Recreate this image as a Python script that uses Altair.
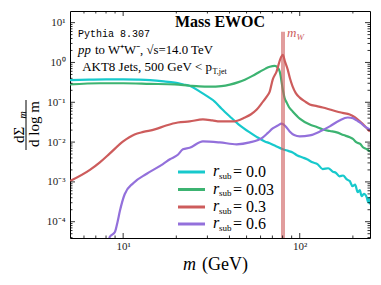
import altair as alt
import pandas as pd

W, H = 300, 227

# ---------------- data ----------------
cyan_m = [5.0, 6.5, 8.0, 10, 12, 14.2, 17, 19.6, 22, 23.8, 27.2, 30, 33, 36, 40.2, 45, 52.1, 57,
          63.4, 67.6, 73, 80.2, 86, 91.2, 97, 104, 110, 118, 126, 135, 145, 154, 160, 168, 176,
          184, 192, 199, 206, 213, 219, 224, 231, 239, 244, 248, 250]
cyan_v = [0.36, 0.37, 0.375, 0.375, 0.37, 0.36, 0.335, 0.31, 0.28, 0.26, 0.185, 0.14, 0.104, 0.07,
          0.044, 0.028, 0.0175, 0.0135, 0.0104, 0.0094, 0.0080, 0.0066, 0.0060, 0.0055, 0.0046,
          0.0041, 0.0037, 0.0031, 0.0028, 0.0021, 0.0022, 0.0018, 0.0017, 0.00138, 0.00145, 0.00117,
          0.00105, 0.00078, 0.00085, 0.00055, 0.00062, 0.00044, 0.00050, 0.00042, 0.00031, 0.00040,
          0.00027]

green_m = [5.0, 7.4, 10, 14.2, 19.6, 23.8, 27, 31, 36, 40.2, 45, 48.9, 54, 59.4, 64, 67.7, 72.2,
           75, 77.1, 80.2, 82, 84.4, 87, 91.2, 100, 114, 125, 135, 148, 162, 177, 192, 200, 210,
           220, 228, 240, 250]
green_v = [0.28, 0.30, 0.30, 0.29, 0.28, 0.26, 0.25, 0.247, 0.255, 0.277, 0.32, 0.37, 0.46, 0.585,
           0.70, 0.78, 0.82, 0.75, 0.585, 0.208, 0.13, 0.098, 0.075, 0.059, 0.039, 0.0277, 0.024,
           0.0208, 0.019, 0.0175, 0.0150, 0.0132, 0.0120, 0.0098, 0.0090, 0.0074, 0.0066, 0.0058]

red_m = [5.0, 6.48, 7.38, 8.41, 10, 11.6, 13, 15.1, 17.5, 20.4, 23.8, 28.3, 32, 35.3, 41.8, 48.9,
         53, 57.1, 61, 65, 67.6, 70.3, 74, 77.5, 80.2, 82.5, 85.5, 88, 91.2, 95, 100, 107, 114,
         125, 135, 148, 162, 175, 192, 205, 219, 232, 243, 250]
red_v = [0.00105, 0.0020, 0.0031, 0.0052, 0.0104, 0.0156, 0.018, 0.0208, 0.026, 0.031, 0.033, 0.037,
         0.035, 0.033, 0.033, 0.0415, 0.050, 0.0655, 0.095, 0.139, 0.185, 0.37, 0.60, 1.2, 1.56,
         1.05, 0.66, 0.40, 0.247, 0.17, 0.131, 0.105, 0.088, 0.080, 0.074, 0.066, 0.0587, 0.054,
         0.049, 0.042, 0.033, 0.026, 0.0208, 0.0185]

purple_m = [8.0, 8.41, 8.98, 9.3, 9.58, 10.2, 11.4, 13.6, 16.8, 18.4, 20.4, 21.8, 23.8, 28.3, 35.3,
            43.9, 52.1, 61.6, 66, 70.3, 75, 79, 83, 87.7, 93, 100, 114, 130, 148, 168, 187, 200,
            210, 222, 233, 250]
purple_v = [1.5e-5, 4.2e-5, 5.5e-5, 1.0e-4, 1.85e-4, 4.9e-4, 9.3e-4, 0.0016, 0.0028, 0.0037,
            0.0048, 0.0066, 0.0072, 0.0104, 0.0098, 0.0088, 0.0098, 0.013, 0.017, 0.022, 0.026,
            0.029, 0.025, 0.0185, 0.015, 0.0139, 0.0147, 0.0185, 0.0248, 0.035, 0.0415, 0.040,
            0.035, 0.030, 0.0248, 0.0208]

series_labels = ["0.0", "0.03", "0.3", "0.6"]
series_colors = ["#17c9cc", "#3cb371", "#cd5c5c", "#9370db"]
m_W = [80.4]
m_W_top = [5.9]

x_major = [10, 100]
x_minor = [6, 7, 8, 9, 20, 30, 40, 50, 60, 70, 80, 90, 200]
y_major = [1e-4, 1e-3, 1e-2, 1e-1, 1, 10]
y_minor = [k * 10.0 ** e for e in range(-5, 2) for k in range(2, 10) if 3.9e-5 < k * 10.0 ** e < 19.6]

SERIF = "Liberation Serif"

xs = alt.Scale(type="log", domain=[5, 250], nice=False)
ys = alt.Scale(type="log", domain=[3.9e-5, 19.6], nice=False)

ylab = ("datum.value > 5 ? '10¹' : datum.value > 0.5 ? '10⁰' : datum.value > 0.05 ? '10⁻¹' : "
        "datum.value > 0.005 ? '10⁻²' : datum.value > 0.0005 ? '10⁻³' : '10⁻⁴'")

XAX = alt.Axis(values=x_major, labelExpr="datum.value < 50 ? '10¹' : '10²'",
               ticks=False, tickSize=0, domain=False, grid=False, title=None,
               labelFont=SERIF, labelFontSize=11, labelPadding=2, labelColor="#222")
YAX = alt.Axis(values=y_major, labelExpr=ylab, ticks=False, tickSize=0,
               domain=False, grid=False, title=None, labelFont=SERIF,
               labelFontSize=11, labelPadding=5, labelColor="#222")


def X(field):
    return alt.X(field, scale=xs, axis=XAX)


def Y(field):
    return alt.Y(field, scale=ys, axis=YAX)


layers = []
all_series = [(cyan_m, cyan_v), (green_m, green_v), (red_m, red_v), (purple_m, purple_v)]
for (ms, vs), col in zip(all_series, series_colors):
    d = pd.DataFrame({"m": ms, "v": vs})
    layers.append(alt.Chart(d).mark_line(color=col, strokeWidth=2.2, clip=True, interpolate="monotone")
                  .encode(x=X("m:Q"), y=Y("v:Q")))

# W mass line
wdf = pd.DataFrame({"m": m_W, "top": m_W_top})
layers.append(alt.Chart(wdf).mark_rule(color="#cd5c5c", opacity=0.6, strokeWidth=4)
              .encode(x=X("m:Q"), y=Y("top:Q"), y2=alt.value(H)))


# inward ticks on all four sides
def ticks_x(vals, L):
    d = pd.DataFrame({"t": vals})
    base = alt.Chart(d).mark_rule(color="black", strokeWidth=0.8)
    return [base.encode(x=X("t:Q"), y=alt.value(H), y2=alt.value(H - L)),
            base.encode(x=X("t:Q"), y=alt.value(0), y2=alt.value(L))]


def ticks_y(vals, L):
    d = pd.DataFrame({"t": vals})
    base = alt.Chart(d).mark_rule(color="black", strokeWidth=0.8)
    return [base.encode(y=Y("t:Q"), x=alt.value(0), x2=alt.value(L)),
            base.encode(y=Y("t:Q"), x=alt.value(W), x2=alt.value(W - L))]


layers += ticks_x(x_major, 5) + ticks_x(x_minor, 2.5) + ticks_y(y_major, 5) + ticks_y(y_minor, 2.5)

one = pd.DataFrame({"a": [0]})


def txt(s, x, y, size, **kw):
    kw.setdefault("font", SERIF)
    kw.setdefault("align", "left")
    kw.setdefault("baseline", "alphabetic")
    kw.setdefault("color", "black")
    return alt.Chart(one).mark_text(text=s, fontSize=size, **kw).encode(x=alt.value(x), y=alt.value(y))


# annotations
layers.append(txt("Mass EWOC", 150, 16, 16, fontWeight="bold", align="center"))
layers.append(txt("Pythia 8.307", 8, 26, 10, font="Liberation Mono"))
layers.append(txt("pp", 8, 43, 12.8, fontStyle="italic"))
layers.append(txt("to W⁺W⁻, √s=14.0 TeV", 25, 43, 12.8))
layers.append(txt("AKT8 Jets, 500 GeV < p", 142, 60, 13, align="right"))
layers.append(txt("T,jet", 142.5, 62.5, 8))
layers.append(txt("m", 217, 26, 13, fontStyle="italic", color="#cd5c5c"))
layers.append(txt("W", 226.5, 29, 9, fontStyle="italic", color="#cd5c5c"))

# legend
rows_y = [161, 178.5, 196, 213]
for yv, lab, col in zip(rows_y, series_labels, series_colors):
    layers.append(alt.Chart(one).mark_rule(color=col, strokeWidth=3)
                  .encode(x=alt.value(108), x2=alt.value(135), y=alt.value(yv)))
    layers.append(txt("r", 143, yv + 4, 16, fontStyle="italic"))
    layers.append(txt("sub", 149, yv + 6.5, 9))
    layers.append(txt("= " + lab, 163, yv + 5, 16))

# axis titles
layers.append(txt("m", 113, 259, 18, fontStyle="italic"))
layers.append(txt("(GeV)", 132, 259, 18))
layers.append(alt.Chart(one).mark_rule(color="black", strokeWidth=1)
              .encode(x=alt.value(-44), y=alt.value(89), y2=alt.value(139)))
layers.append(txt("dΣ", -46.5, 124, 15, angle=270, align="center"))
layers.append(txt("m", -44.5, 104, 10, angle=270, align="center", fontStyle="italic"))
layers.append(txt("d log m", -31.5, 113, 15, angle=270, align="center"))

chart = alt.layer(*layers).properties(
    width=W, height=H, autosize="none",
    padding={"left": 62, "top": 3, "right": 3, "bottom": 45},
).configure_view(stroke="black", strokeWidth=1)

chart.save("out.html", embed_options={"renderer": "svg", "actions": False})
